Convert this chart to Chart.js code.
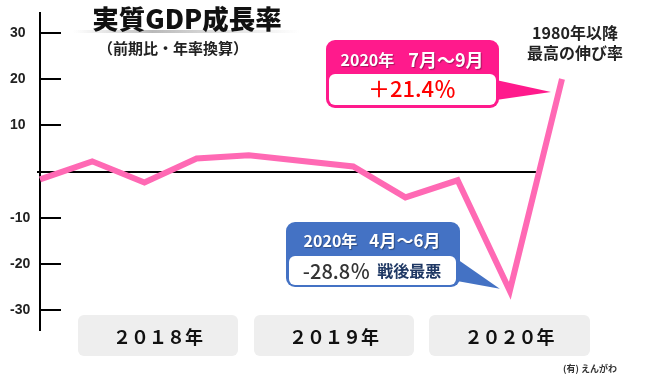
<!DOCTYPE html>
<html><head><meta charset="utf-8">
<script src="https://cdn.jsdelivr.net/npm/chart.js@4.4.0/dist/chart.umd.min.js"></script>
<style>html,body{margin:0;padding:0;background:#fff;overflow:hidden}canvas{display:block}</style>
</head><body>
<canvas id="c" width="650" height="379"></canvas>
<script>
const quarters = ['2018Q1','2018Q2','2018Q3','2018Q4','2019Q1','2019Q2','2019Q3','2019Q4','2020Q1','2020Q2','2020Q3'];
const growth = [-1.7, 2.2, -2.4, 2.8, 3.5, null, 1.1, -5.6, -1.9, -25.8, 20.0];
const yTicks = [-30, -20, -10, 0, 10, 20, 30];
const years = ['２０１８年', '２０１９年', '２０２０年'];
const titleText = '実質GDP成長率';
const subtitleText = '（前期比・年率換算）';
const noteLines = ['1980年以降', '最高の伸び率'];
const highCallout = {year: '2020年', period: '7月～9月', value: '＋21.4％'};
const lowCallout = {year: '2020年', period: '4月～6月', value: '-28.8％', note: '戦後最悪'};
const sourceText = '(有) えんがわ';

const JP = '"Noto Sans CJK JP", "Noto Sans", sans-serif';

function rr(ctx, x, y, w, h, r) {
  ctx.beginPath();
  ctx.moveTo(x + r, y);
  ctx.arcTo(x + w, y, x + w, y + h, r);
  ctx.arcTo(x + w, y + h, x, y + h, r);
  ctx.arcTo(x, y + h, x, y, r);
  ctx.arcTo(x, y, x + w, y, r);
  ctx.closePath();
}
function drawRuns(ctx, runs, cx, cy, shadow) {
  let total = 0;
  runs.forEach(r => { ctx.font = r.font; r.w = ctx.measureText(r.t).width; total += r.w + (r.gap || 0); });
  let x = cx - total / 2;
  ctx.textBaseline = 'middle'; ctx.textAlign = 'left';
  runs.forEach(r => {
    ctx.save();
    if (shadow) { ctx.shadowColor = 'rgba(0,0,0,0.35)'; ctx.shadowOffsetX = 1; ctx.shadowOffsetY = 1; ctx.shadowBlur = 1; }
    ctx.font = r.font; ctx.fillStyle = r.color; ctx.fillText(r.t, x, cy);
    ctx.restore();
    x += r.w + (r.gap || 0);
  });
}
function callout(ctx, o) {
  ctx.save();
  ctx.fillStyle = o.color;
  rr(ctx, o.x, o.y, o.w, o.h, 9); ctx.fill();
  ctx.beginPath();
  ctx.moveTo(o.x + o.w - 3, o.py0); ctx.lineTo(o.tip.x, o.tip.y); ctx.lineTo(o.x + o.w - 3, o.py1);
  ctx.closePath(); ctx.fill();
  ctx.fillStyle = '#fff';
  rr(ctx, o.ix, o.iy, o.iw, o.ih, 6); ctx.fill();
  drawRuns(ctx, o.header, o.hx, o.hy, true);
  drawRuns(ctx, o.body, o.bx, o.by, false);
  ctx.restore();
}

const decor = {
  id: 'decor',
  beforeDatasetsDraw(chart) {
    const {ctx, chartArea, scales: {x, y}} = chart;
    ctx.save();
    ctx.strokeStyle = '#000'; ctx.lineWidth = 2;
    yTicks.forEach(v => {
      if (v === 0) return;
      const py = Math.round(y.getPixelForValue(v));
      ctx.beginPath(); ctx.moveTo(chartArea.left, py); ctx.lineTo(chartArea.left + 21, py); ctx.stroke();
    });
    const zy = Math.round(y.getPixelForValue(0));
    ctx.beginPath(); ctx.moveTo(chartArea.left - 3, zy); ctx.lineTo(x.getPixelForValue(9.5), zy); ctx.stroke();
    ctx.restore();
  },
  afterDraw(chart) {
    const {ctx, scales: {x, y}} = chart;
    ctx.save();
    // title
    const g = ctx.createLinearGradient(73, 0, 300, 0);
    g.addColorStop(0, 'rgba(200,200,200,0)');
    g.addColorStop(0.35, 'rgba(185,185,185,1)');
    g.addColorStop(1, 'rgba(200,200,200,0)');
    ctx.fillStyle = g; ctx.fillRect(73, 30, 227, 3);
    ctx.textAlign = 'center'; ctx.textBaseline = 'middle';
    ctx.fillStyle = '#111'; ctx.font = '900 26.5px ' + JP;
    ctx.fillText(titleText, 187, 19);
    ctx.fillStyle = '#222'; ctx.font = 'bold 15px ' + JP;
    ctx.fillText(subtitleText, 173, 48);
    // note
    ctx.fillStyle = '#222'; ctx.font = 'bold 16px ' + JP;
    ctx.fillText(noteLines[0], 575, 33);
    ctx.fillText(noteLines[1], 575, 53);
    // year boxes
    const boxes = [[78, 160], [254, 160], [429, 161]];
    years.forEach((t, i) => {
      ctx.fillStyle = '#eeeeee';
      rr(ctx, boxes[i][0], 315, boxes[i][1], 41, 6); ctx.fill();
      ctx.fillStyle = '#111'; ctx.font = 'bold 18px ' + JP;
      ctx.textAlign = 'center'; ctx.textBaseline = 'middle';
      ctx.fillText(t, boxes[i][0] + boxes[i][1] / 2, 337);
    });
    // source
    ctx.fillStyle = '#333'; ctx.font = 'bold 9px ' + JP; ctx.textAlign = 'center';
    ctx.fillText(sourceText, 590, 369);
    // callouts
    const pHi = {x: x.getPixelForValue(10), y: y.getPixelForValue(growth[10])};
    const pLo = {x: x.getPixelForValue(9), y: y.getPixelForValue(growth[9])};
    callout(ctx, {
      color: '#FF1A8C', x: 326, y: 40, w: 173, h: 68, ix: 329, iy: 74, iw: 167, ih: 31,
      py0: 80, py1: 100, tip: {x: pHi.x - 11, y: pHi.y + 13},
      header: [{t: highCallout.year, font: 'bold 16px ' + JP, color: '#fff', gap: 14}, {t: highCallout.period, font: 'bold 18px ' + JP, color: '#fff'}],
      hx: 412, hy: 60,
      body: [{t: highCallout.value, font: '500 22px ' + JP, color: '#FF0000'}],
      bx: 412, by: 89
    });
    callout(ctx, {
      color: '#4472C4', x: 286, y: 222, w: 174, h: 65, ix: 289, iy: 256, iw: 167, ih: 29,
      py0: 259, py1: 281, tip: {x: pLo.x - 10, y: pLo.y - 2},
      header: [{t: lowCallout.year, font: 'bold 16px ' + JP, color: '#fff', gap: 12}, {t: lowCallout.period, font: 'bold 17px ' + JP, color: '#fff'}],
      hx: 372, hy: 241,
      body: [{t: lowCallout.value, font: '500 20px ' + JP, color: '#333', gap: 7}, {t: lowCallout.note, font: 'bold 16px ' + JP, color: '#1F3864'}],
      bx: 372, by: 271
    });
    ctx.restore();
  }
};

new Chart(document.getElementById('c'), {
  type: 'line',
  data: {
    labels: quarters,
    datasets: [{
      data: growth,
      borderColor: '#FF69B4',
      borderWidth: 6,
      pointRadius: 0,
      tension: 0,
      spanGaps: true,
      borderJoinStyle: 'miter',
      borderCapStyle: 'butt',
      clip: false
    }]
  },
  options: {
    responsive: false,
    devicePixelRatio: 1,
    animation: false,
    layout: {padding: {left: 10, top: 13, right: 88, bottom: 49}},
    plugins: {legend: {display: false}, tooltip: {enabled: false}},
    scales: {
      x: {display: false, offset: false},
      y: {
        min: -34.3, max: 34.3,
        afterFit: s => { s.width = 30; },
        afterBuildTicks: s => { s.ticks = yTicks.map(v => ({value: v})); },
        grid: {display: false},
        border: {display: true, color: '#000', width: 2},
        ticks: {
          crossAlign: 'far',
          color: '#222',
          font: {family: '"Liberation Sans", Arial, sans-serif', size: 14, weight: 'bold'},
          callback: v => (v === 0 ? '' : v)
        }
      }
    }
  },
  plugins: [decor]
});
</script>
</body></html>
